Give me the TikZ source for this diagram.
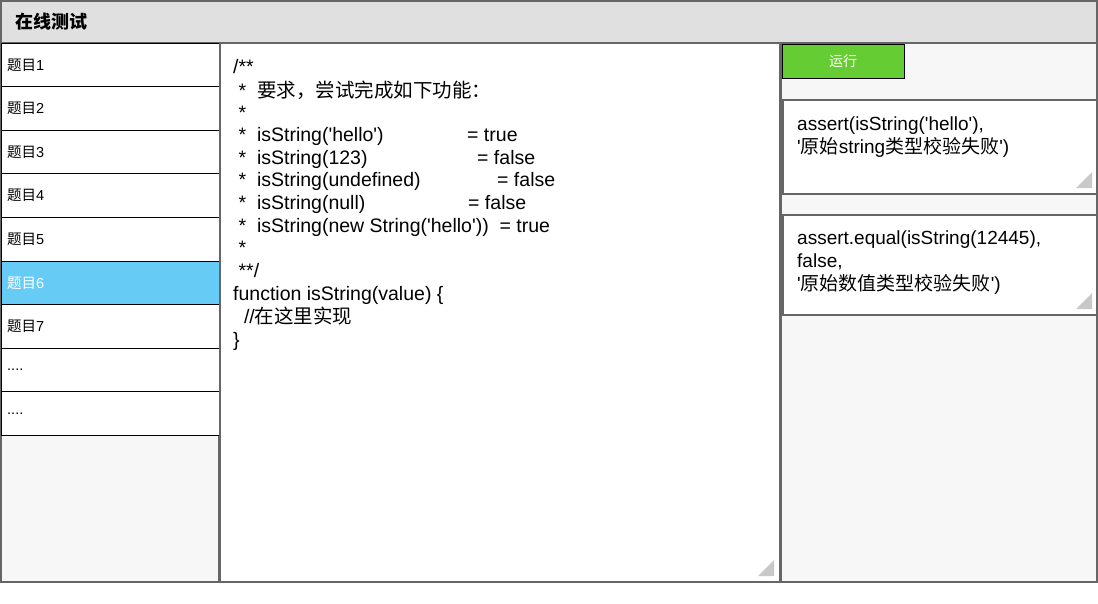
\documentclass[tikz,border=0pt]{standalone}
\usepackage{fontspec}
\setmainfont[Ligatures=NoCommon,Mapping=]{Liberation Sans}
\newfontfamily\cjk{Noto Sans CJK SC}
\newcommand\fourdots{....}
\newcommand\sq{\char"0027\relax}
\definecolor{bord}{HTML}{666666}
\definecolor{titlebg}{HTML}{E0E0E0}
\definecolor{sel}{HTML}{66CCF5}
\definecolor{runbg}{HTML}{66CC33}
\definecolor{panel}{HTML}{F7F7F7}
\definecolor{grip}{HTML}{C8C8C8}
\begin{document}
\begin{tikzpicture}[x=1pt,y=-1pt,
  frame/.style={draw=bord,line width=1.5pt},
  item/.style={draw=black,line width=0.8pt,fill=white},
  itemtxt/.style={anchor=west,font=\fontsize{14.5}{16}\selectfont,inner sep=0},
  code/.style={anchor=base west,font=\fontsize{19.5}{22}\selectfont,inner sep=0},
  atxt/.style={anchor=north west,align=left,font=\fontsize{19}{23}\selectfont,inner sep=0}]
\useasboundingbox (0,0) rectangle (1098,603);
\fill[white] (0,0) rectangle (1098,603);
% title
\filldraw[frame,fill=titlebg] (1,1) rectangle (1097,43);
\node[anchor=west,font=\cjk\bfseries\fontsize{18}{20}\selectfont,inner sep=0] (title) at (15,22) {在线测试};
% left list
\filldraw[frame,fill=panel] (1,43) rectangle (219,582);
\foreach \i/\t in {1/{\cjk 题目}1,2/{\cjk 题目}2,3/{\cjk 题目}3,4/{\cjk 题目}4,5/{\cjk 题目}5,6/{\cjk 题目}6,7/{\cjk 题目}7,8/\fourdots,9/\fourdots}{
  \pgfmathsetmacro\ya{43+(\i-1)*43.6}
  \pgfmathsetmacro\yb{43+\i*43.6}
  \ifnum\i=6
    \filldraw[item,fill=sel] (1,\ya) rectangle (219,\yb);
    \node[itemtxt,text=white] (it\i) at (7,{(\ya+\yb)/2}) {\t};
  \else
    \filldraw[item] (1,\ya) rectangle (219,\yb);
    \node[itemtxt] (it\i) at (7,{(\ya+\yb)/2}) {\t};
  \fi
}
% code area
\filldraw[frame,fill=white] (220,43) rectangle (780,582);
\fill[grip] (774,560) -- (774,576) -- (758,576) -- cycle;
\node[code] (c1) at (233,73) {/**};
\node[code] (c2) at (233,97) {\ *\ \ {\cjk 要求，尝试完成如下功能：}};
\node[code] (c3) at (233,119) {\ *};
\node[code] (c4) at (233,141) {\ *\ \ isString(\sq hello\sq)};
\node[code] (c4b) at (467,141) {= true};
\node[code] (c5) at (233,164) {\ *\ \ isString(123)};
\node[code] (c5b) at (477,164) {= false};
\node[code] (c6) at (233,186) {\ *\ \ isString(undefined)};
\node[code] (c6b) at (497,186) {= false};
\node[code] (c7) at (233,209) {\ *\ \ isString(null)};
\node[code] (c7b) at (468,209) {= false};
\node[code] (c8) at (233,232) {\ *\ \ isString(new String(\sq hello\sq))\ \ = true};
\node[code] (c9) at (233,254) {\ *};
\node[code] (c10) at (233,277) {\ **/};
\node[code] (c11) at (233,300) {function isString(value) \{};
\node[code] (c12) at (233,323) {\ \ //{\cjk 在这里实现}};
\node[code] (c13) at (233,346) {\}};
% right panel
\filldraw[frame,fill=panel] (781,43) rectangle (1097,582);
\filldraw[draw=black,line width=0.8pt,fill=runbg] (782,44) rectangle (904,78);
\node[font=\cjk\fontsize{14}{16}\selectfont,text=white] (run) at (843,61) {运行};
\filldraw[frame,fill=white] (783,100) rectangle (1097,194);
\fill[grip] (1092,172) -- (1092,188) -- (1076,188) -- cycle;
\node[atxt] (a1) at (797,117) {assert(isString(\sq hello\sq),\\\sq{\cjk 原始}string{\cjk 类型校验失败}\sq)};
\filldraw[frame,fill=white] (783,215) rectangle (1097,315);
\fill[grip] (1092,293) -- (1092,309) -- (1076,309) -- cycle;
\node[atxt] (a2) at (797,231) {assert.equal(isString(12445),\\false,\\\sq{\cjk 原始数值类型校验失败}\sq)};
\end{tikzpicture}
\end{document}
